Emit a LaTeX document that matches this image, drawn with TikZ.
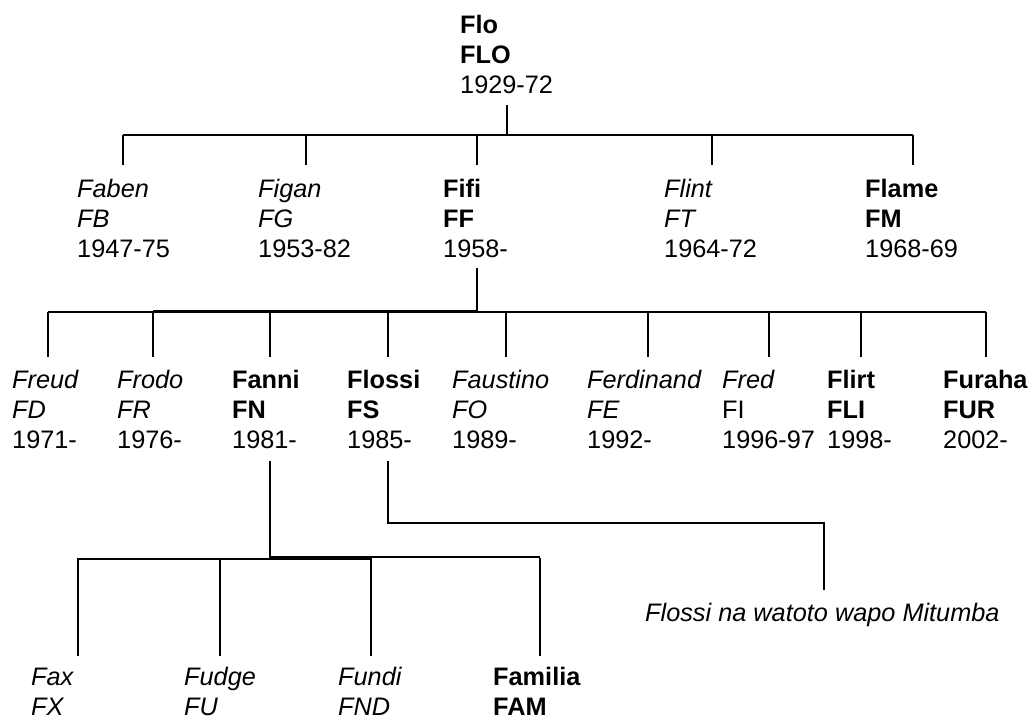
\documentclass[tikz,border=0pt]{standalone}
\usepackage{fontspec}
\setmainfont{Liberation Sans}
\begin{document}
\begin{tikzpicture}[x=1pt,y=-1pt,
  person/.style={anchor=base west,inner sep=0pt,align=left,font=\fontsize{25.3pt}{30pt}\selectfont},
  bus/.style={line width=1.4pt,draw=black},
  stem/.style={line width=2pt,draw=black}]
\useasboundingbox (0,0) rectangle (1029,718);
% generation 0 (anchor = baseline of last line)
\node[person] (flo) at (460,93) {\textbf{Flo}\\\textbf{FLO}\\1929-72};
% generation 1
\node[person] (faben) at (77,257) {\textit{Faben}\\\textit{FB}\\1947-75};
\node[person] (figan) at (258,257) {\textit{Figan}\\\textit{FG}\\1953-82};
\node[person] (fifi) at (443,257) {\textbf{Fifi}\\\textbf{FF}\\1958-};
\node[person] (flint) at (664,257) {\textit{Flint}\\\textit{FT}\\1964-72};
\node[person] (flame) at (865,257) {\textbf{Flame}\\\textbf{FM}\\1968-69};
% generation 2
\node[person] (freud) at (12,448) {\textit{Freud}\\\textit{FD}\\1971-};
\node[person] (frodo) at (117,448) {\textit{Frodo}\\\textit{FR}\\1976-};
\node[person] (fanni) at (232,448) {\textbf{Fanni}\\\textbf{FN}\\1981-};
\node[person] (flossi) at (347,448) {\textbf{Flossi}\\\textbf{FS}\\1985-};
\node[person] (faustino) at (452,448) {\textit{Faustino}\\\textit{FO}\\1989-};
\node[person] (ferdinand) at (587,448) {\textit{Ferdinand}\\\textit{FE}\\1992-};
\node[person] (fred) at (722,448) {\textit{Fred}\\FI\\1996-97};
\node[person] (flirt) at (827,448) {\textbf{Flirt}\\\textbf{FLI}\\1998-};
\node[person] (furaha) at (943,448) {\textbf{Furaha}\\\textbf{FUR}\\2002-};
% generation 3
\node[person] (fax) at (31,715) {\textit{Fax}\\\textit{FX}};
\node[person] (fudge) at (184,715) {\textit{Fudge}\\\textit{FU}};
\node[person] (fundi) at (338,715) {\textit{Fundi}\\\textit{FND}};
\node[person] (familia) at (493,715) {\textbf{Familia}\\\textbf{FAM}};
\node[person] (mitumba) at (645,621) {\textit{Flossi na watoto wapo Mitumba}};

% coordinates for connectors
\coordinate (flo-s) at (507,105);
\coordinate (flo-b) at (507,135);
\foreach \n/\x in {faben/123,figan/306,fifi/477,flint/712,flame/913}{
  \coordinate (\n-t) at (\x,135);
  \coordinate (\n-n) at (\x,165);
}
\coordinate (fifi-s) at (477,268);
\coordinate (fifi-b) at (477,312);
\foreach \n/\x in {freud/48,frodo/153,fanni/270,flossi/388,faustino/506,ferdinand/648,fred/769,flirt/861,furaha/986}{
  \coordinate (\n-t) at (\x,312);
  \coordinate (\n-n) at (\x,357);
}
\coordinate (fanni-s) at (270,461);
\coordinate (fanni-b) at (270,558);
\foreach \n/\x in {fax/78,fudge/220,fundi/371,familia/540}{
  \coordinate (\n-t) at (\x,558);
  \coordinate (\n-n) at (\x,656);
}
\coordinate (flossi-s) at (388,461);
\coordinate (flossi-c) at (388,523);
\coordinate (mit-c) at (824,523);
\coordinate (mit-n) at (824,590);

% generation 1 connectors
\draw[stem] (flo-s) -- (flo-b);
\draw[bus] (faben-t) -- (flame-t);
\foreach \n in {faben,figan,fifi,flint,flame}{ \draw[bus] (\n-t) -- (\n-n); }
% generation 2 connectors
\draw[stem] (fifi-s) -- (fifi-b);
\draw[bus] (freud-t) -- (furaha-t);
\draw[bus] ([yshift=1pt]frodo-t) -- ([yshift=1pt]fifi-b);
\foreach \n in {freud,frodo,fanni,flossi,faustino,ferdinand,fred,flirt,furaha}{ \draw[bus] (\n-t) -- (\n-n); }
% generation 3 connectors
\draw[stem] (fanni-s) -- (fanni-b);
\draw[bus] ([yshift=-1pt]fax-t) -- ([yshift=-1pt]fundi-t);
\draw[bus] ([yshift=1pt]fanni-b) -- ([yshift=1pt]familia-t);
\foreach \n in {fax,fudge,fundi,familia}{ \draw[bus] (\n-t) -- (\n-n); }
% Flossi to Mitumba
\draw[bus] (flossi-s) -- (flossi-c) -- (mit-c) -- (mit-n);
\end{tikzpicture}
\end{document}
